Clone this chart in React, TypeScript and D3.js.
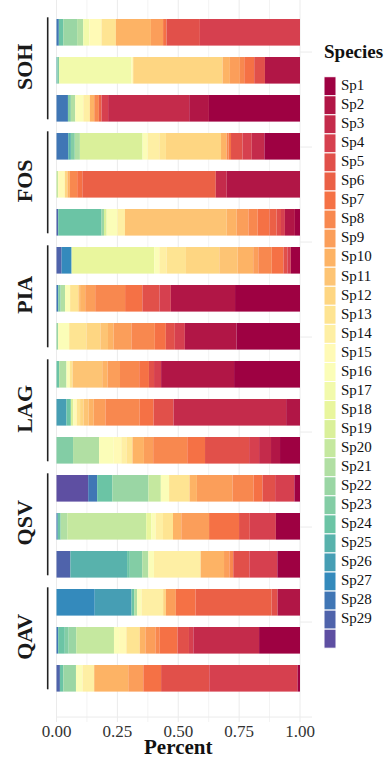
import React from "react";
import * as d3 from "d3";

// ---------- DATA ----------
const groups = ["SOH", "FOS", "PIA", "LAG", "QSV", "QAV"];
const speciesIds = d3.range(1, 31); // 30 levels, last one unlabeled
const speciesLabels = speciesIds.map((i) => (i <= 29 ? `Sp${i}` : ""));
const xTicks = [0, 0.25, 0.5, 0.75, 1];
const xMinor = [0.125, 0.375, 0.625, 0.875];
const spectral = ["#9E0142", "#D53E4F", "#F46D43", "#FDAE61", "#FEE08B", "#FFFFBF", "#E6F598", "#ABDDA4", "#66C2A5", "#3288BD", "#5E4FA2"];

// [species number, share] pairs, per bar
const SOH_1 = [[28, .0096], [24, .018], [22, .057], [21, .025], [17, .025], [15, .05], [13, .059], [10, .144], [9, .05], [7, .014], [5, .137], [4, .411]];
const SOH_2 = [[25, .004], [23, .007], [17, .297], [15, .007], [12, .367], [10, .03], [9, .041], [8, .018], [7, .041], [5, .044], [2, .144]];
const SOH_3 = [[28, .047], [23, .012], [21, .018], [16, .033], [14, .027], [10, .018], [8, .019], [6, .011], [4, .027], [3, .333], [2, .081], [1, .374]];
const FOS_1 = [[28, .048], [25, .011], [23, .016], [21, .021], [19, .257], [16, .021], [14, .048], [13, .027], [12, .226], [10, .023], [8, .008], [7, .01], [5, .047], [4, .038], [3, .052], [1, .146]];
const FOS_2 = [[20, .007], [15, .027], [12, .011], [10, .01], [8, .03], [7, .021], [6, .548], [3, .045], [2, .301]];
const FOS_3 = [[29, .007], [24, .178], [22, .01], [19, .011], [16, .044], [14, .031], [11, .418], [10, .041], [9, .048], [8, .038], [7, .048], [6, .03], [5, .018], [4, .016], [2, .041], [1, .021]];
const PIA_1 = [[29, .021], [27, .041], [18, .339], [16, .021], [14, .03], [13, .079], [12, .137], [11, .075], [10, .064], [9, .021], [8, .055], [7, .048], [5, .016], [4, .014], [1, .038]];
const PIA_2 = [[28, .007], [23, .01], [21, .018], [16, .021], [13, .034], [11, .007], [10, .021], [9, .041], [8, .123], [7, .071], [5, .07], [4, .047], [2, .264], [1, .267]];
const PIA_3 = [[22, .007], [16, .045], [13, .071], [12, .057], [11, .031], [10, .023], [9, .073], [8, .096], [7, .045], [5, .037], [4, .041], [2, .212], [1, .26]];
const LAG_1 = [[24, .011], [21, .03], [16, .014], [13, .011], [11, .122], [10, .022], [9, .051], [8, .079], [7, .04], [5, .021], [4, .029], [2, .3], [1, .271]];
const LAG_2 = [[26, .041], [24, .018], [19, .01], [15, .014], [13, .014], [12, .014], [11, .021], [10, .021], [9, .048], [8, .141], [7, .057], [5, .082], [3, .463], [2, .057]];
const LAG_3 = [[23, .068], [21, .107], [16, .06], [15, .031], [14, .021], [13, .025], [10, .047], [9, .038], [8, .14], [7, .073], [5, .181], [4, .041], [3, .049], [2, .037], [1, .082]];
const QSV_1 = [[30, .13], [28, .037], [24, .062], [22, .148], [20, .051], [16, .034], [13, .084], [10, .03], [9, .146], [8, .086], [7, .037], [5, .052], [4, .079], [1, .023]];
const QSV_2 = [[28, .005], [24, .012], [21, .027], [20, .324], [18, .021], [16, .018], [14, .03], [13, .041], [10, .034], [9, .114], [7, .123], [5, .044], [4, .107], [1, .099]];
const QSV_3 = [[29, .057], [25, .233], [24, .011], [23, .051], [21, .025], [16, .023], [14, .192], [10, .096], [9, .022], [8, .016], [5, .066], [4, .115], [1, .093]];
const QAV_1 = [[27, .157], [26, .151], [24, .011], [21, .012], [16, .018], [14, .089], [12, .011], [9, .041], [7, .081], [6, .312], [5, .025], [2, .092]];
const QAV_2 = [[28, .007], [24, .027], [23, .016], [22, .031], [20, .155], [16, .021], [15, .03], [13, .055], [10, .023], [9, .041], [8, .018], [7, .073], [5, .047], [4, .018], [3, .27], [1, .168]];
const QAV_3 = [[29, .014], [24, .014], [22, .052], [16, .027], [14, .048], [10, .14], [9, .062], [7, .073], [5, .198], [4, .363], [1, .01]];

const barsByGroup: Record<string, number[][][]> = {
  SOH: [SOH_1, SOH_2, SOH_3],
  FOS: [FOS_1, FOS_2, FOS_3],
  PIA: [PIA_1, PIA_2, PIA_3],
  LAG: [LAG_1, LAG_2, LAG_3],
  QSV: [QSV_1, QSV_2, QSV_3],
  QAV: [QAV_1, QAV_2, QAV_3],
};

// ---------- LAYOUT ----------
const W = 391;
const H = 758;
const serif = "'Liberation Serif', 'Times New Roman', Times, serif";

export default function App() {
  const rows: any[] = [];
  groups.forEach((g) => {
    barsByGroup[g].forEach((pairs, j) => {
      const row: any = { id: `${g}_${j + 1}`, group: g };
      pairs.forEach(([sp, v]) => (row[`s${sp}`] = v));
      rows.push(row);
    });
  });

  const keys = [...speciesIds].reverse().map((i) => `s${i}`); // Sp30 leftmost, Sp1 rightmost
  const series = d3
    .stack<any>()
    .keys(keys)
    .value((d, k) => d[k] || 0)
    .offset(d3.stackOffsetExpand)(rows);

  const interp = d3.piecewise(d3.interpolateRgb, spectral);
  const color = d3
    .scaleOrdinal<string, string>()
    .domain(speciesIds.map((i) => `s${i}`))
    .range(speciesIds.map((_, i) => interp(i / (speciesIds.length - 1))));

  const x = d3.scaleLinear().domain([0, 1]).range([56.5, 300]);
  const y = d3.scalePoint<string>().domain(rows.map((r) => r.id)).range([32.3, 678.3]);
  const step = y.step();
  const bh = step * 0.7;

  const panelTop = 0;
  const panelBottom = 722;
  const panelRight = x(1) + 12;

  const hGrid = d3.range(8).map((k) => y(rows[0].id)! + 0.52 * step + k * 2.5 * step);

  const legendX = 324;
  const legendTop = 76.7;
  const keyStep = 19.05;

  return (
    <svg width={W} height={H} style={{ position: "absolute", left: 0, top: 0, background: "#fff" }} fontFamily={serif}>
      {/* grid */}
      {xMinor.map((t) => (
        <line key={"mn" + t} x1={x(t)} x2={x(t)} y1={panelTop} y2={panelBottom} stroke="#f3f3f3" strokeWidth={1} />
      ))}
      {xTicks.map((t) => (
        <line key={"mj" + t} x1={x(t)} x2={x(t)} y1={panelTop} y2={panelBottom} stroke="#ebebeb" strokeWidth={1} />
      ))}
      {hGrid.map((gy, i) => (
        <line
          key={"hg" + i}
          x1={i === hGrid.length - 1 ? x(0) : x(1)}
          x2={panelRight}
          y1={gy}
          y2={gy}
          stroke="#ebebeb"
          strokeWidth={1}
        />
      ))}

      {/* bars */}
      {series.map((s) => (
        <g key={s.key} fill={color(s.key)}>
          {s.map((d, i) =>
            d[1] - d[0] > 0 ? (
              <rect
                key={i}
                x={x(d[0])}
                width={x(d[1]) - x(d[0])}
                y={y(d.data.id)! - bh / 2}
                height={bh}
              />
            ) : null
          )}
        </g>
      ))}

      {/* facet strips */}
      {groups.map((g) => {
        const cy = y(`${g}_2`)!;
        return (
          <g key={g}>
            <line x1={47.7} x2={47.7} y1={cy - 53} y2={cy + 49} stroke="#222" strokeWidth={1.6} />
            <text
              transform={`translate(32,${cy - 3.5}) rotate(-90)`}
              textAnchor="middle"
              fontSize={22}
              fontWeight="bold"
              fill="#1a1a1a"
            >
              {g}
            </text>
          </g>
        );
      })}

      {/* x axis */}
      {xTicks.map((t) => (
        <text key={"xt" + t} x={x(t)} y={736.8} textAnchor="middle" fontSize={17} fill="#333">
          {d3.format(".2f")(t)}
        </text>
      ))}
      <text x={(x(0) + x(1)) / 2} y={754} textAnchor="middle" fontSize={21} fontWeight="bold" fill="#111">
        Percent
      </text>

      {/* legend */}
      <text x={legendX} y={58} fontSize={19} fontWeight="bold" fill="#111">
        Species
      </text>
      {speciesIds.map((sp, i) => {
        const ky = legendTop + i * keyStep;
        return (
          <g key={"lg" + sp}>
            <rect x={legendX} y={ky} width={12} height={keyStep} fill={color(`s${sp}`)} stroke="#fff" strokeWidth={1} />
            <text x={341} y={ky + keyStep / 2 + 3.8} fontSize={15} fill="#111">
              {speciesLabels[i]}
            </text>
          </g>
        );
      })}
    </svg>
  );
}
